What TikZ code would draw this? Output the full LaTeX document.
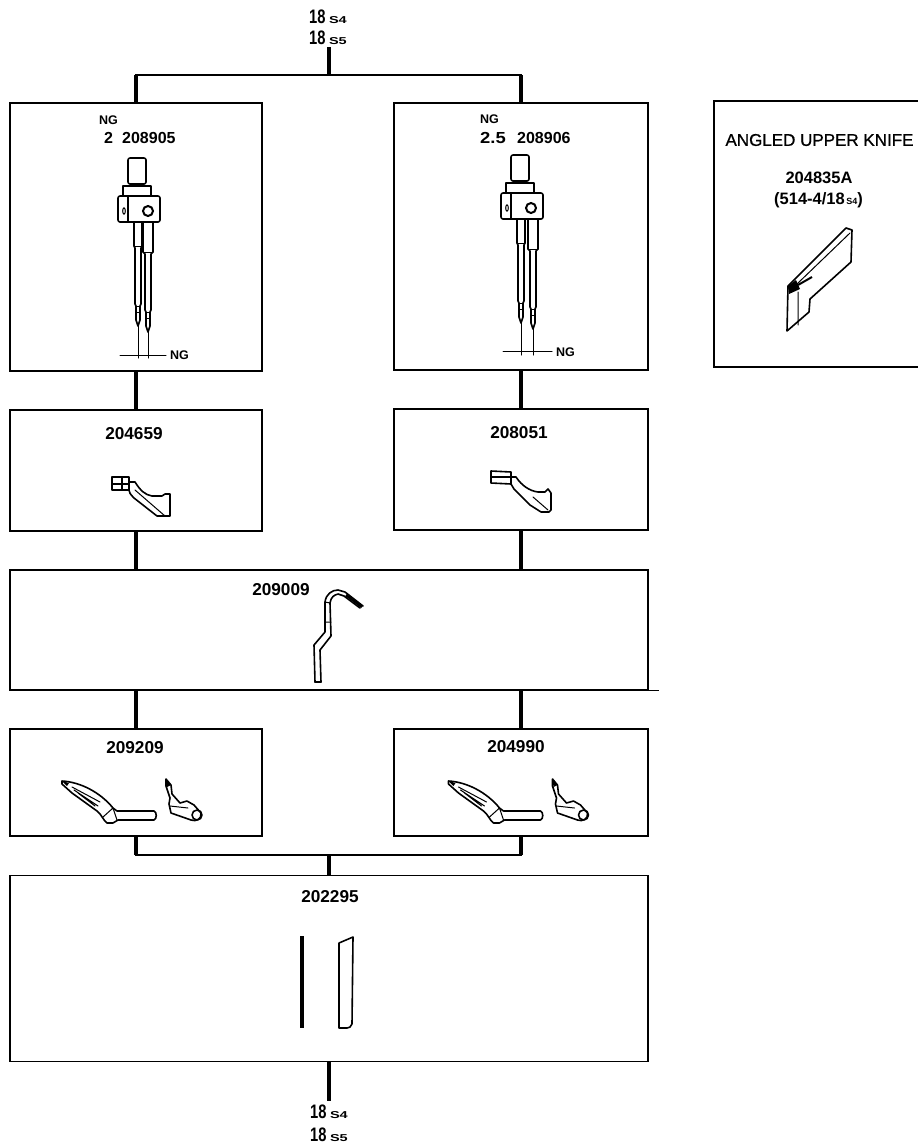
\documentclass[tikz,border=0pt]{standalone}
\usepackage{fontspec}
\setmainfont{Liberation Sans}
\newfontfamily\knifefont[FakeBold=0.8]{Liberation Sans}
\newcommand{\partfont}{\bfseries\fontsize{16}{18}\selectfont}
\newcommand{\bigpartfont}{\bfseries\fontsize{17.2}{20}\selectfont}
\newcommand{\ngfont}{\bfseries\fontsize{12.5}{14}\selectfont}
\newcommand{\machine}[1]{\scalebox{0.92}[1.22]{\bfseries\fontsize{16}{18}\selectfont 18}\hspace{3.5pt}\scalebox{1.45}[1]{\bfseries\fontsize{10}{12}\selectfont #1}}
\tikzset{
  box/.style={draw=black,line width=1.5pt,fill=white,inner sep=0pt,rectangle},
  link/.style={draw=black,line width=3.4pt},
  bus/.style={draw=black,line width=2.8pt},
  lbl/.style={inner sep=0pt,text=black,font=\partfont},
  biglbl/.style={inner sep=0pt,text=black,font=\bigpartfont},
  ng/.style={inner sep=0pt,text=black,font=\ngfont},
  part/.style={draw=black,line width=1.6pt,line join=round,line cap=round},
  thin part/.style={draw=black,line width=1pt,line cap=round},
  pics/holder/.style={code={
    % origin at the left needle's axis, y of the block top
    \draw[part,fill=white,rounded corners=2pt] (-10,-38) rectangle (8,-12);
    \draw[part] (-15,-1) -- (-15,-10) -- (13,-10) -- (13,-1);
    \draw[part,rounded corners=2pt] (-20,0) rectangle (22,26);
    \draw[part] (-10,0) -- (-10,26);
    \draw[line width=2pt] (10,15) circle (5);
    \draw[thin part] (-14,15) ellipse (1.3 and 3.2);
    % left needle
    \draw[part] (-4,26) -- (-4,50) -- (-3,52) -- (-3,108) -- (-2,110) -- (-2,124) -- (0,130) -- (2,124) -- (2,110) -- (3,108) -- (3,52) -- (4,50) -- (4,26);
    \draw[thin part] (-4,50) -- (4,50) (-2,110) -- (2,110) (-2,116) -- (2,116);
    \draw[thin part] (0,130) -- (0,162);
    % right needle
    \draw[part] (#1-5,26) -- (#1-5,56) -- (#1-3,58) -- (#1-3,114) -- (#1-2,116) -- (#1-2,130) -- (#1,136) -- (#1+2,130) -- (#1+2,116) -- (#1+3,114) -- (#1+3,58) -- (#1+5,56) -- (#1+5,26);
    \draw[thin part] (#1-5,56) -- (#1+5,56) (#1-2,116) -- (#1+2,116) (#1-2,122) -- (#1+2,122);
    \draw[thin part] (#1,136) -- (#1,162);
  }},
  pics/looper/.style={code={
    \draw[part] (62,781) .. controls (80,782) and (100,792) .. (113,808) -- (117,811) -- (154,811) .. controls (157,812) and (157,819) .. (154,820) -- (118,820) -- (113,823) -- (107,823) .. controls (103,820) and (102,815) .. (97,811) -- (72,793) -- (62,784) -- cycle;
    \draw[thin part] (72,787) -- (100,802) (74,790) -- (98,806) (78,793) -- (95,806);
    \draw[thin part] (113,808) -- (103,817) (113,808) -- (117,820);
    \fill (62,781) -- (69,783) -- (67,786) -- cycle;
    \draw[part] (166,779) -- (171,785) -- (172,794) -- (180,803) -- (187,801) -- (194,805) -- (201,813) .. controls (202,819) and (196,822) .. (191,820) -- (171,813) -- (169,804) -- (170,798) -- (166,786) -- cycle;
    \draw[part] (197,815) circle (5);
    \draw[thin part] (170,806) -- (188,808);
    \fill (166,779) -- (171,785) -- (167,787) -- cycle;
  }}
}
\begin{document}
\begin{tikzpicture}[x=1pt,y=-1pt]
\useasboundingbox (0,0) rectangle (918,1146);
\clip (0,0) rectangle (918,1146);
\fill[white] (0,0) rectangle (918,1146);

% boxes
\node[box,minimum width=252pt,minimum height=268pt] (needleL) at (136,237) {};
\node[box,minimum width=254pt,minimum height=267pt] (needleR) at (521,236.5) {};
\node[box,minimum width=214pt,minimum height=266pt] (knife) at (821,234) {};
\node[box,minimum width=252pt,minimum height=121pt] (hookL) at (136,470.5) {};
\node[box,minimum width=254pt,minimum height=121pt] (hookR) at (521,469.5) {};
\node[box,minimum width=638pt,minimum height=120pt] (wire) at (329,630) {};
\node[box,minimum width=252pt,minimum height=107pt] (loopL) at (136,782.5) {};
\node[box,minimum width=254pt,minimum height=107pt] (loopR) at (521,782.5) {};
\node[box,minimum width=638pt,minimum height=186pt] (blade) at (329,968.5) {};

% connectors
\coordinate (topEnd) at (329,47);
\coordinate (topBus) at (329,75);
\coordinate (busL) at (136,75);
\coordinate (busR) at (521,75);
\coordinate (lowBus) at (329,855);
\coordinate (lowL) at (136,855);
\coordinate (lowR) at (521,855);
\coordinate (botEnd) at (329,1101);
\path[link] (topEnd) -- (topBus);
\path[bus,line cap=rect] (busL) -- (busR);
\path[link] (busL) -- (needleL.north);
\path[link] (busR) -- (needleR.north);
\path[link] (needleL.south) -- (hookL.north);
\path[link] (needleR.south) -- (hookR.north);
\path[link] (hookL.south) -- (wire.north -| hookL.south);
\path[link] (hookR.south) -- (wire.north -| hookR.south);
\path[link] (wire.south -| loopL.north) -- (loopL.north);
\path[link] (wire.south -| loopR.north) -- (loopR.north);
\path[link] (loopL.south) -- (lowL);
\path[link] (loopR.south) -- (lowR);
\path[bus,line cap=rect] (lowL) -- (lowR);
\path[link] (lowBus) -- (blade.north);
\path[link] (blade.south) -- (botEnd);
\draw[line width=1.2pt] (wire.south east) -- ++(10,0);

% top and bottom labels
\node[lbl,anchor=west] (t1) at (309,17) {\machine{S4}};
\node[lbl,anchor=west] (t2) at (309,38) {\machine{S5}};
\node[lbl,anchor=west] (b1) at (310,1112) {\machine{S4}};
\node[lbl,anchor=west] (b2) at (310,1135) {\machine{S5}};

% needle boxes
\node[ng,anchor=west] (ngL) at (99,120) {NG};
\node[lbl,anchor=west] (sizeL) at (104,138) {2};
\node[lbl,anchor=west] (numL) at (122,138) {208905};
\pic at (138,196) {holder=10};
\draw[thin part] (120,355) -- (166,355);
\node[ng,anchor=west] (ngLb) at (170,355) {NG};

\node[ng,anchor=west] (ngR) at (480,119) {NG};
\node[lbl,anchor=west] (sizeR) at (480,137.5) {\scalebox{1.15}[1]{2.5}};
\node[lbl,anchor=west] (numR) at (517,137.5) {208906};
\pic at (521,193) {holder=12};
\draw[thin part] (503,351) -- (552,351);
\node[ng,anchor=west] (ngRb) at (556,352) {NG};

% knife box
\node[lbl,anchor=center,font=\knifefont\fontsize{17}{19}\selectfont] (kt) at (819.5,140) {ANGLED UPPER KNIFE};
\node[lbl,font=\bfseries\fontsize{16.5}{18}\selectfont] (kn) at (819,178) {204835A};
\node[lbl,font=\bfseries\fontsize{16.5}{18}\selectfont] (kr) at (818.5,200) {(514-4/18{\fontsize{9}{10}\selectfont\,S4})};
\draw[part] (788,286) -- (846,228) -- (852,230) -- (851,262) -- (810,299) -- (809,312) -- (787,331) -- cycle;
\draw[thin part] (797,284) -- (850,233) (798,292) -- (798,325);
\fill (788,286) -- (796,280) -- (800,289) -- (789,294) -- cycle;
\draw[line width=2pt] (798,285) -- (812,277);

% hooks
\node[biglbl] (h1) at (134,434) {204659};
\draw[part] (112,477) rectangle (129,490) (122,477) -- (122,490) (112,484) -- (129,484);
\draw[part] (129,482) -- (135,482) .. controls (140,490) and (145,495) .. (152,496) -- (162,496) -- (165,494) -- (170,494) -- (170,516) -- (157,516) -- (134,498) .. controls (130,494) and (129,492) .. (129,490);
\draw[thin part] (135,490) -- (165,516);

\node[biglbl] (h2) at (519,433) {208051};
\draw[part] (491,471) -- (511,472) -- (511,484) -- (491,483) -- cycle (492,477) -- (511,477);
\draw[part] (511,477) -- (516,477) .. controls (522,486) and (530,491) .. (538,492) -- (545,492) -- (548,489) -- (551,493) -- (551,510) -- (549,512) -- (541,512) -- (530,505) -- (514,489) -- (511,484);
\draw[thin part] (533,497) -- (548,510);

% wire
\node[biglbl] (w1) at (281,590) {209009};
\draw[part] (315,682) -- (314,645) -- (325,632) -- (325,602) .. controls (326,594) and (332,590) .. (338,590) -- (345,592) -- (363,606);
\draw[part] (321,682) -- (320,650) -- (331,636) -- (330,603) .. controls (331,597) and (334,595) .. (338,594) -- (344,596) -- (360,608);
\draw[part] (315,682) -- (321,682);
\draw[line width=2.6pt] (346,595) -- (362,607);
\draw[thin part] (325,622) -- (331,622) (325,602) -- (330,603);

% loopers
\node[biglbl] (l1) at (135,748) {209209};
\pic at (0,0) {looper};
\node[biglbl] (l2) at (516,747) {204990};
\pic at (386.5,0) {looper};

% blades
\node[biglbl] (b0) at (330,897) {202295};
\draw[line width=2pt] (300.7,936) -- (300.7,1028) (303.3,936) -- (303.3,1028);
\draw[part] (339,943) -- (353,937) -- (352,1024) .. controls (351,1027) and (349,1028) .. (347,1028) -- (339,1028) -- cycle;
\end{tikzpicture}
\end{document}
